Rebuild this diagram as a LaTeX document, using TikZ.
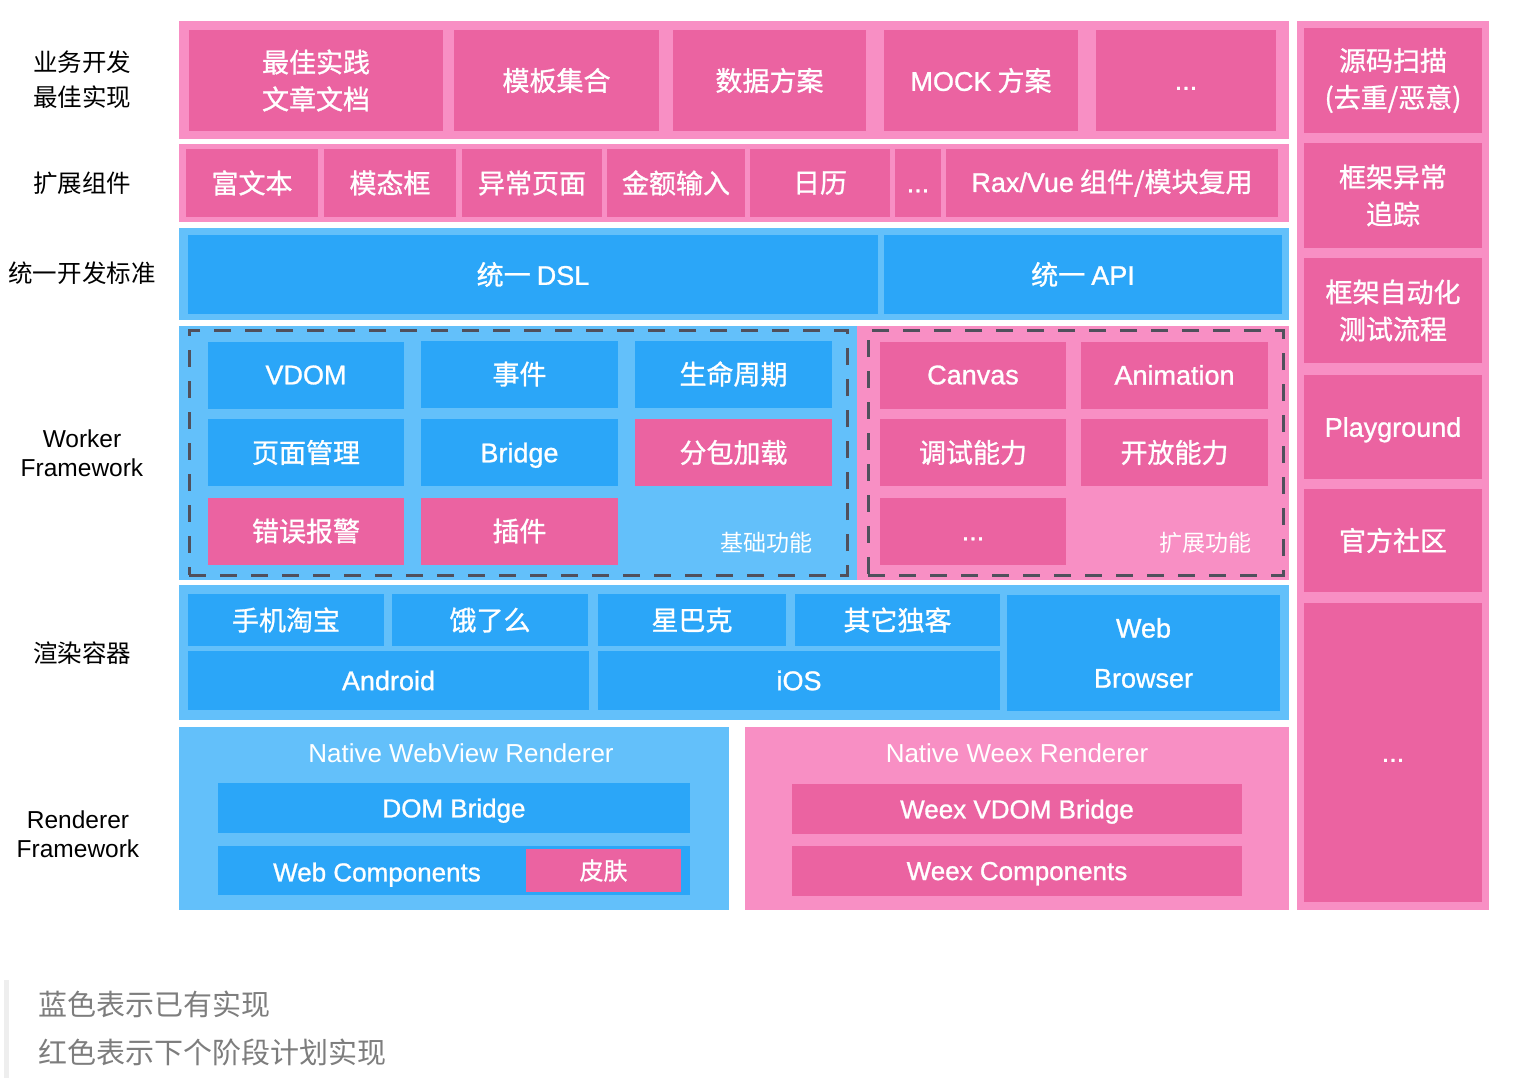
\documentclass[tikz,border=0pt]{standalone}
\usepackage{fontspec}
\setmainfont{Noto Sans CJK SC}[BoldFont={Noto Sans CJK SC}, BoldFeatures={FakeBold=1}]
\newfontfamily\lat{Liberation Sans}[BoldFont={Liberation Sans}, BoldFeatures={FakeBold=1}]
\usepackage{tikz}
\definecolor{lpink}{RGB}{248,143,196}
\definecolor{dpink}{RGB}{235,99,161}
\definecolor{lsky}{RGB}{99,192,250}
\definecolor{dsky}{RGB}{43,166,248}
\definecolor{dashgray}{RGB}{80,80,92}
\definecolor{notegray}{RGB}{125,125,125}
\definecolor{bargray}{RGB}{238,238,238}
\pgfdeclarelayer{bandlayer}
\pgfdeclarelayer{nodelayer}
\pgfsetlayers{bandlayer,nodelayer,main}
\tikzstyle{rowband}=[rectangle,inner sep=0,outer sep=0]
\tikzstyle{pinkband}=[rowband,fill=lpink]
\tikzstyle{skyband}=[rowband,fill=lsky]
\tikzstyle{cell}=[rectangle,inner sep=0,outer sep=0,text=white,align=center,font={\fontsize{27}{37}\selectfont\bfseries}]
\tikzstyle{pinkcell}=[cell,fill=dpink]
\tikzstyle{skycell}=[cell,fill=dsky]
\tikzstyle{sidelabel}=[align=center,font={\fontsize{24.5}{35}\selectfont}]
\tikzstyle{dashframe}=[rectangle,inner sep=0,draw=dashgray,line width=3pt,dash pattern=on 17pt off 14pt]
\tikzstyle{areatag}=[text=white,font={\fontsize{23}{23}\selectfont}]
\tikzstyle{rendertag}=[text=white,font={\fontsize{26}{26}\selectfont\lat}]
\tikzstyle{legendtext}=[text=notegray,anchor=west,inner sep=0,font={\fontsize{29}{29}\selectfont}]

\begin{document}
\begin{tikzpicture}[x=1pt,y=-1pt]
    \useasboundingbox (0,0) rectangle (1514,1086);
    \begin{pgfonlayer}{bandlayer}
    \node [style = pinkband, minimum width=1110, minimum height=118] (bizband) at (734,80) {};
    \node [style = pinkband, minimum width=1110, minimum height=78] (extband) at (734,183) {};
    \node [style = skyband, minimum width=1110, minimum height=92] (stdband) at (734,274) {};
    \node [style = skyband, minimum width=678, minimum height=254] (baseband) at (518,453) {};
    \node [style = pinkband, minimum width=432, minimum height=254] (moreband) at (1073,453) {};
    \node [style = skyband, minimum width=1110, minimum height=135] (hostband) at (734,652.5) {};
    \node [style = skyband, minimum width=550, minimum height=183] (webband) at (454,818.5) {};
    \node [style = pinkband, minimum width=544, minimum height=183] (weexband) at (1017,818.5) {};
    \node [style = pinkband, minimum width=192, minimum height=889] (toolband) at (1393,465.5) {};
    \end{pgfonlayer}

    \begin{pgfonlayer}{nodelayer}
    % left labels
    \node [style = sidelabel] (biz) at (82,80) {业务开发\\最佳实现};
    \node [style = sidelabel] (ext) at (82,183) {扩展组件};
    \node [style = sidelabel] (std) at (82,273) {统一开发标准};
    \node [style = sidelabel, font={\fontsize{24.5}{29}\selectfont\lat}] (worker) at (82,453) {Worker\\Framework};
    \node [style = sidelabel] (host) at (82,653) {渲染容器};
    \node [style = sidelabel, font={\fontsize{24.5}{29}\selectfont\lat}] (render) at (78,834) {Renderer\\Framework};

    % business row
    \node [style = pinkcell, minimum width=254, minimum height=101] (best) at (316,80.5) {最佳实践\\文章文档};
    \node [style = pinkcell, minimum width=205, minimum height=101] (tpl) at (556.5,80.5) {模板集合};
    \node [style = pinkcell, minimum width=193, minimum height=101] (data) at (769.5,80.5) {数据方案};
    \node [style = pinkcell, minimum width=194, minimum height=101] (mock) at (981,80.5) {{\lat MOCK} 方案};
    \node [style = pinkcell, minimum width=180, minimum height=101] (bizmore) at (1186,80.5) {\lat\vphantom{A}...};

    % component row
    \node [style = pinkcell, minimum width=132, minimum height=68] (rich) at (252,183) {富文本};
    \node [style = pinkcell, minimum width=132, minimum height=68] (modal) at (390,183) {模态框};
    \node [style = pinkcell, minimum width=140, minimum height=68] (errpage) at (532,183) {异常页面};
    \node [style = pinkcell, minimum width=138, minimum height=68] (money) at (676,183) {金额输入};
    \node [style = pinkcell, minimum width=140, minimum height=68] (cal) at (820,183) {日历};
    \node [style = pinkcell, minimum width=46, minimum height=68] (extmore) at (918,183) {\lat\vphantom{A}...};
    \node [style = pinkcell, minimum width=332, minimum height=68] (reuse) at (1112,183) {{\lat Rax/Vue} 组件/模块复用};

    % standard row
    \node [style = skycell, minimum width=690, minimum height=79] (dsl) at (533,274.5) {统一 {\lat DSL}};
    \node [style = skycell, minimum width=398, minimum height=79] (api) at (1083,274.5) {统一 {\lat API}};

    % worker framework
    \node [style = dashframe, minimum width=658, minimum height=245] (baseframe) at (518,452.5) {};
    \node [style = dashframe, minimum width=415, minimum height=245] (moreframe) at (1075.5,452.5) {};
    \node [style = skycell, minimum width=196, minimum height=67] (vdom) at (306,375) {\lat VDOM};
    \node [style = skycell, minimum width=197, minimum height=67] (event) at (519.5,374) {事件};
    \node [style = skycell, minimum width=197, minimum height=67] (life) at (733.5,374) {生命周期};
    \node [style = skycell, minimum width=196, minimum height=67] (page) at (306,452.5) {页面管理};
    \node [style = skycell, minimum width=197, minimum height=67, text depth=0pt] (bridge) at (519.5,452.5) {\lat Bridge};
    \node [style = pinkcell, minimum width=197, minimum height=67] (split) at (733.5,452.5) {分包加载};
    \node [style = pinkcell, minimum width=196, minimum height=67] (alarm) at (306,531) {错误报警};
    \node [style = pinkcell, minimum width=197, minimum height=67] (plugin) at (519.5,531) {插件};
    \node [style = areatag] (basetag) at (766,543) {基础功能};
    \node [style = pinkcell, minimum width=186, minimum height=67] (canvas) at (973,375) {\lat Canvas};
    \node [style = pinkcell, minimum width=187, minimum height=67] (anim) at (1174.5,375) {\lat Animation};
    \node [style = pinkcell, minimum width=186, minimum height=67] (debug) at (973,452.5) {调试能力};
    \node [style = pinkcell, minimum width=187, minimum height=67] (open) at (1174.5,452.5) {开放能力};
    \node [style = pinkcell, minimum width=186, minimum height=67] (capmore) at (973,531) {\lat\vphantom{A}...};
    \node [style = areatag] (moretag) at (1205,543) {扩展功能};

    % render hosts
    \node [style = skycell, minimum width=196, minimum height=52] (taobao) at (286,620) {手机淘宝};
    \node [style = skycell, minimum width=196, minimum height=52] (eleme) at (490,620) {饿了么};
    \node [style = skycell, minimum width=188, minimum height=52] (sbux) at (692,620) {星巴克};
    \node [style = skycell, minimum width=205, minimum height=52] (others) at (897.5,620) {其它独客};
    \node [style = skycell, minimum width=401, minimum height=59] (android) at (388.5,680.5) {\lat Android};
    \node [style = skycell, minimum width=402, minimum height=59] (ios) at (799,680.5) {\lat iOS};
    \node [style = skycell, minimum width=273, minimum height=116, font={\fontsize{27}{50}\selectfont\bfseries\lat}] (browser) at (1143.5,653) {Web\\Browser};

    % renderer framework
    \node [style = rendertag] (webtitle) at (461,753) {Native WebView Renderer};
    \node [style = skycell, minimum width=472, minimum height=50, text depth=0pt, font={\fontsize{26}{26}\selectfont\bfseries\lat}] (dombridge) at (454,808) {DOM Bridge};
    \node [style = skycell, minimum width=472, minimum height=49] (webcomp) at (454,870.5) {};
    \node [style = rendertag, text depth=0pt, font={\fontsize{26}{26}\selectfont\bfseries\lat}] (webcomptext) at (377,872) {Web Components};
    \node [style = pinkcell, minimum width=155, minimum height=43, font={\fontsize{24}{24}\selectfont\bfseries}] (skin) at (603.5,870.5) {皮肤};
    \node [style = rendertag] (weextitle) at (1017,753) {Native Weex Renderer};
    \node [style = pinkcell, minimum width=450, minimum height=50, text depth=0pt, font={\fontsize{26}{26}\selectfont\bfseries\lat}] (weexbridge) at (1017,809) {Weex VDOM Bridge};
    \node [style = pinkcell, minimum width=450, minimum height=50, text depth=0pt, font={\fontsize{26}{26}\selectfont\bfseries\lat}] (weexcomp) at (1017,871) {Weex Components};

    % tool column
    \node [style = pinkcell, minimum width=178, minimum height=105] (scan) at (1393,80.5) {源码扫描\\(去重/恶意)};
    \node [style = pinkcell, minimum width=178, minimum height=105] (trace) at (1393,195.5) {框架异常\\追踪};
    \node [style = pinkcell, minimum width=178, minimum height=105] (autotest) at (1393,310.5) {框架自动化\\测试流程};
    \node [style = pinkcell, minimum width=178, minimum height=104, text depth=0pt] (play) at (1393,427) {\lat Playground};
    \node [style = pinkcell, minimum width=178, minimum height=103] (community) at (1393,540.5) {官方社区};
    \node [style = pinkcell, minimum width=178, minimum height=299] (toolmore) at (1393,752.5) {\lat\vphantom{A}...};

    % legend
    \node [style = legendtext] (bluenote) at (38,1004) {蓝色表示已有实现};
    \node [style = legendtext] (pinknote) at (38,1052) {红色表示下个阶段计划实现};
    \end{pgfonlayer}
    \fill [bargray] (4,980) rectangle (9,1078);
\end{tikzpicture}
\end{document}
